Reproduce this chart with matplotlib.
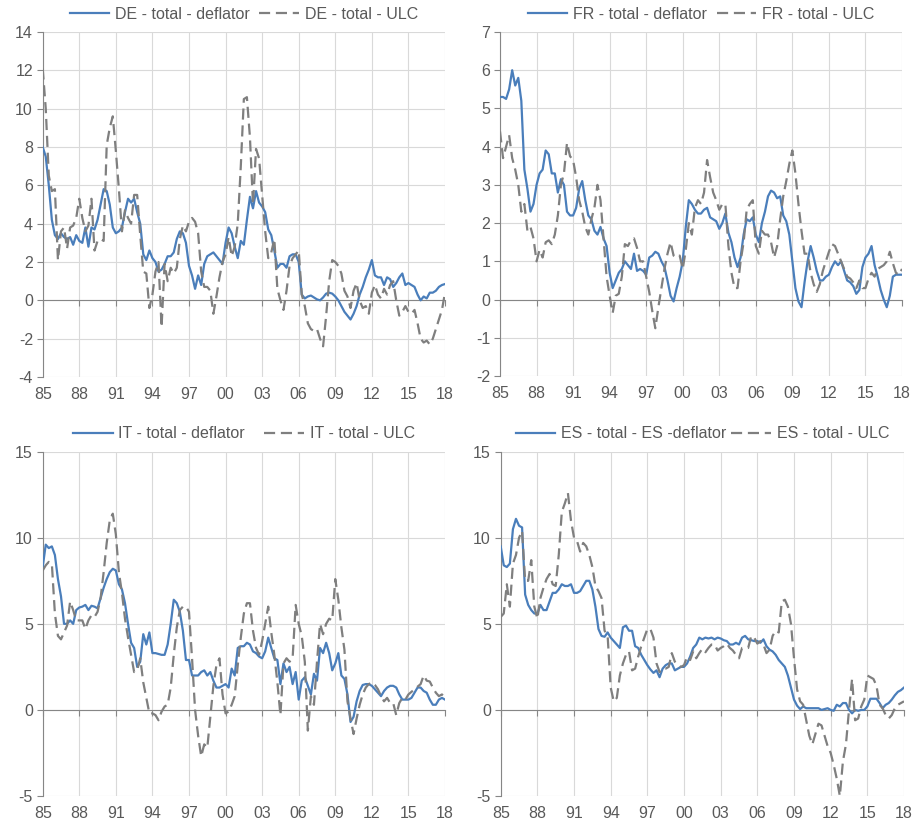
import matplotlib
matplotlib.use("Agg")
import matplotlib.pyplot as plt

plt.rcParams["font.family"] = ["Liberation Sans", "DejaVu Sans"]

# Quarterly data, 1985Q1 .. 2018Q1 (133 quarters)
year_labels = ["85", "88", "91", "94", "97", "00", "03", "06", "09", "12", "15", "18"]

de_deflator = [
    8.0, 7.5, 6.0, 4.2, 3.4, 3.2, 3.5, 3.3, 3.2, 3.3, 2.9, 3.4,
    3.1, 3.0, 3.8, 2.8, 3.8, 3.7, 4.2, 5.0, 5.8, 5.7, 5.0, 3.8,
    3.5, 3.6, 3.8, 4.6, 5.3, 5.1, 5.3, 4.6, 4.0, 2.4, 2.1, 2.6,
    2.2, 2.0, 1.5, 1.6, 1.9, 2.3, 2.3, 2.5, 3.2, 3.6, 3.5, 3.0,
    1.8, 1.3, 0.6, 1.3, 0.8, 1.9, 2.3, 2.4, 2.5, 2.3, 2.1, 1.9,
    3.0, 3.8, 3.5, 2.8, 2.2, 3.1, 2.9, 4.2, 5.4, 4.8, 5.7, 5.1,
    4.9, 4.6, 3.7, 3.4, 2.6, 1.7, 1.9, 1.9, 1.7, 2.3, 2.4, 2.4,
    2.0, 0.3, 0.1, 0.2, 0.25, 0.15, 0.05, 0.0, 0.15, 0.35, 0.4, 0.35,
    0.2, 0.0, -0.3, -0.6, -0.8, -1.0, -0.7, -0.3, 0.3, 0.7, 1.2, 1.6,
    2.1, 1.3, 1.2, 1.2, 0.8, 1.2, 1.1, 0.7, 0.9, 1.2, 1.4, 0.8,
    0.9, 0.8, 0.7, 0.3, 0.0, 0.2, 0.1, 0.4, 0.4, 0.5, 0.7, 0.8,
    0.85,
]
de_ulc = [
    12.1, 10.0, 6.5, 5.7, 5.8, 2.1, 3.6, 3.8, 2.7, 3.8, 3.9, 4.3,
    5.3, 4.3, 3.6, 3.9, 5.3, 2.6, 3.1, 3.2, 3.1, 8.1, 9.0, 9.6,
    7.8, 5.8, 3.6, 4.7, 4.3, 4.0, 5.5, 5.5, 3.4, 1.5, 1.4, -0.4,
    0.3, 1.5, 2.0, -1.4, 1.9, 1.0, 1.7, 1.4, 1.7, 3.2, 3.9, 3.6,
    4.1, 4.3, 4.1, 3.5, 1.5, 0.7, 0.7, 0.5, -0.7, 0.2, 1.2, 2.0,
    2.4, 3.3, 2.3, 2.8, 4.0, 7.0, 10.5, 10.6, 8.5, 5.0, 7.9, 7.4,
    5.5, 3.6, 2.2, 2.5, 3.2, 0.6, 0.0, -0.5, 0.5, 1.8, 2.2, 2.4,
    2.6, 0.3, -0.3, -1.2, -1.5, -1.6, -1.5, -2.0, -2.4, -0.8, 1.0, 2.1,
    2.0, 1.8, 1.4, 0.5, 0.2, -0.4, 0.5, 0.9, 0.0, -0.4, -0.3, -0.7,
    0.4, 0.8, 0.3, 0.1, 0.6, 0.3, 0.8, 1.0, 0.0, -0.8, -0.6, -0.3,
    -0.6, -0.7, -0.5, -1.2, -2.0, -2.2, -2.1, -2.3, -2.0, -1.5, -1.0, -0.5,
    0.4,
]

fr_deflator = [
    5.3, 5.3, 5.25, 5.5, 6.0, 5.6, 5.8, 5.2, 3.4, 2.9, 2.3, 2.5,
    3.0, 3.3, 3.4, 3.9, 3.8, 3.3, 3.3, 2.8, 3.15, 3.0, 2.3, 2.2,
    2.2, 2.4, 2.9, 3.1, 2.6, 2.2, 2.1, 1.8, 1.7, 1.9, 1.6, 1.4,
    0.7, 0.3, 0.5, 0.7, 0.8, 1.0, 0.9, 0.8, 1.2, 0.75, 0.8, 0.75,
    0.65, 1.1, 1.15, 1.25, 1.2, 1.0, 0.85, 0.5, 0.1, -0.05, 0.3, 0.6,
    1.0, 1.9, 2.6, 2.5, 2.35, 2.25, 2.25, 2.35, 2.4, 2.15, 2.1, 2.05,
    1.85, 2.0, 2.25, 1.75, 1.5, 1.1, 0.85, 1.1, 1.7, 2.1, 2.05, 2.15,
    1.7, 1.5, 2.0, 2.3, 2.7, 2.85, 2.8, 2.65, 2.7, 2.2, 2.05, 1.7,
    1.0, 0.3, -0.05, -0.2, 0.45, 1.0, 1.4, 1.1, 0.75, 0.5, 0.5, 0.6,
    0.65, 0.85, 1.0, 0.9, 1.0, 0.75, 0.5, 0.45, 0.35, 0.15, 0.25, 0.85,
    1.1, 1.2, 1.4, 0.9, 0.6, 0.25, 0.0, -0.2, 0.1, 0.6, 0.65, 0.65,
    0.65,
]
fr_ulc = [
    4.4, 3.7, 4.0, 4.3, 3.7, 3.4, 3.0, 2.3, 2.5, 1.8, 1.9, 1.6,
    1.0, 1.3, 1.1, 1.5, 1.55, 1.45, 1.7, 2.2, 3.0, 3.3, 4.1, 3.75,
    3.65, 3.2, 2.6, 2.3, 1.9, 1.7, 2.1, 2.4, 3.0, 2.6, 1.6, 0.6,
    0.1, -0.35, 0.1, 0.15, 0.6, 1.45, 1.4, 1.55, 1.6, 1.35, 1.0, 1.0,
    0.6, 0.2, -0.3, -0.75, -0.2, 0.3, 0.8, 1.2, 1.5, 1.15, 1.1, 1.15,
    0.8, 1.3, 2.0, 1.7, 2.4, 2.6, 2.5, 2.8, 3.65, 3.2, 2.8, 2.6,
    2.35, 2.5, 2.5, 1.4, 0.7, 0.3, 0.3, 1.0, 1.5, 2.35, 2.5, 2.6,
    1.4, 1.2, 1.8, 1.7, 1.7, 1.5, 1.1, 1.4, 2.1, 2.7, 3.1, 3.55,
    3.9, 3.3, 2.5, 1.8, 1.2, 1.2, 0.7, 0.4, 0.2, 0.4, 0.75, 1.0,
    1.25, 1.45, 1.4, 1.2, 1.0, 0.8, 0.6, 0.55, 0.45, 0.3, 0.5, 0.3,
    0.3, 0.55, 0.7, 0.6, 0.8, 0.85, 0.9, 1.0, 1.25, 0.95, 0.7, 0.65,
    0.8,
]

it_deflator = [
    8.3, 9.6, 9.4, 9.5, 9.0, 7.6, 6.6, 5.0, 5.0, 5.2, 5.0, 5.8,
    5.95, 6.0, 6.1, 5.8, 6.05, 6.0, 5.9, 6.5, 7.1, 7.6, 8.0, 8.2,
    8.1, 7.3, 7.0, 6.2, 5.0, 3.9, 3.6, 2.5, 2.8, 4.4, 3.8, 4.5,
    3.3, 3.3, 3.25, 3.2, 3.2, 3.8, 5.0, 6.4, 6.2, 5.7, 4.6, 2.9,
    2.9, 2.0, 2.0, 2.0, 2.2, 2.3, 2.0, 2.2, 1.7, 1.3, 1.3, 1.4,
    1.5, 1.3, 2.4, 2.0, 3.6, 3.7, 3.7, 3.9, 3.8, 3.4, 3.3, 3.1,
    3.0, 3.4, 4.2, 3.6, 3.0, 2.9, 1.5, 2.7, 2.2, 2.5, 1.5, 2.2,
    0.6, 1.7, 1.9, 1.4, 0.9, 2.1, 1.7, 3.6, 3.3, 3.9, 3.3, 2.3,
    2.7, 3.3, 2.0, 1.8, 0.9, -0.7, -0.4, 0.5, 1.1, 1.45, 1.5, 1.5,
    1.4, 1.2, 1.0, 0.8, 1.1, 1.3, 1.4, 1.4, 1.3, 0.9, 0.6, 0.6,
    0.6, 0.7, 1.0, 1.3, 1.3, 1.1, 1.0, 0.6, 0.3, 0.3, 0.6, 0.7,
    0.6,
]
it_ulc = [
    8.1, 8.4, 8.6, 8.5, 5.6, 4.3, 4.1, 4.5, 4.9, 6.3, 5.8, 5.2,
    5.2, 5.2, 4.7, 5.2, 5.5, 5.4, 5.7, 6.5, 8.0, 9.7, 11.0, 11.4,
    10.2, 8.0, 6.8, 5.3, 4.2, 3.2, 2.2, 2.3, 3.0, 1.6, 0.7, -0.2,
    -0.2, -0.3, -0.6, -0.1, 0.2, 0.3, 1.3, 3.2, 4.8, 5.8, 6.0, 6.0,
    5.7, 3.0, 0.0, -1.5, -2.7, -2.0, -2.2, -0.4, 1.4, 2.6, 3.0, 0.9,
    -0.2, -0.1, 0.3, 0.8, 2.6, 4.2, 5.6, 6.2, 6.2, 4.6, 3.6, 3.2,
    4.0, 5.0, 6.0, 4.5, 3.2, 1.6, -0.3, 2.7, 3.0, 2.8, 3.0, 6.1,
    5.0, 4.3, 2.8, -1.2, 0.8, 0.3, 2.8, 5.0, 4.4, 5.0, 5.3, 5.2,
    7.6, 6.4, 4.8, 3.5, 0.5, -0.5, -1.4, -0.5, 0.3, 0.9, 1.3, 1.5,
    1.6, 1.45, 1.2, 0.8, 0.5, 0.7, 0.4, 0.4, -0.3, 0.4, 0.7, 0.6,
    0.9, 1.05, 1.2, 1.35, 1.5, 2.0, 1.7, 1.65, 1.3, 1.0, 0.8, 0.9,
    0.7,
]

es_deflator = [
    9.5, 8.4, 8.3, 8.5, 10.5, 11.1, 10.7, 10.6, 6.7, 6.1, 5.8, 5.6,
    5.6, 6.1, 5.8, 5.8, 6.3, 6.8, 6.8, 7.0, 7.3, 7.2, 7.2, 7.3,
    6.8, 6.8, 6.9, 7.2, 7.5, 7.5, 7.0, 6.0, 4.7, 4.3, 4.25, 4.5,
    4.2, 4.0, 3.8, 3.6, 4.8, 4.9, 4.6, 4.6, 3.7, 3.6, 3.2, 2.9,
    2.6, 2.35, 2.15, 2.3, 1.9, 2.4, 2.6, 2.7, 2.7, 2.3, 2.4, 2.5,
    2.5, 2.7, 3.1, 3.6, 3.8, 4.2, 4.1, 4.2, 4.15, 4.2, 4.1, 4.2,
    4.15, 4.05, 4.0, 3.8, 3.8, 3.9, 3.8, 4.2, 4.3, 4.1, 4.05, 4.0,
    4.0, 3.9, 4.1, 3.7, 3.5, 3.4, 3.2, 2.9, 2.7, 2.5, 2.0, 1.3,
    0.6, 0.25, 0.05, 0.2, 0.1, 0.1, 0.1, 0.1, 0.1, 0.0, 0.05, 0.1,
    0.0, -0.05, 0.3, 0.2, 0.4, 0.4, 0.0, -0.2, 0.0, -0.05, 0.0, 0.0,
    0.2, 0.65, 0.65, 0.65, 0.4, 0.1, 0.3, 0.4, 0.6, 0.85, 1.05, 1.15,
    1.3,
]
es_ulc = [
    5.4, 5.6, 7.3, 6.0, 8.5, 9.0, 10.0, 10.4, 7.5, 7.5, 8.7, 6.0,
    5.3, 6.5, 7.1, 7.6, 7.9, 7.3, 7.2, 9.0, 11.5, 12.0, 12.6, 11.0,
    10.0, 9.8, 9.2, 9.7, 9.5, 9.0, 8.3, 7.2, 6.9, 6.5, 4.6, 4.3,
    1.3, 0.5, 0.7, 2.0, 2.7, 3.2, 3.4, 2.3, 2.4, 3.1, 3.7, 4.2,
    4.7, 4.7, 4.2, 2.7, 2.2, 2.4, 2.4, 2.5, 3.3, 2.8, 2.6, 2.5,
    2.6, 3.1, 2.9, 3.4, 3.0, 3.3, 3.55, 3.35, 3.6, 3.8, 3.8, 3.45,
    3.6, 3.7, 3.85, 3.6, 3.45, 3.2, 3.0, 3.6, 3.6, 3.6, 4.3, 4.2,
    3.85, 4.0, 3.8, 3.3, 3.5, 4.3, 4.6, 4.5, 6.3, 6.4, 6.0, 5.0,
    3.0, 1.2, 0.5, 0.3, -0.6, -1.5, -2.0, -1.4, -0.8, -0.9, -1.5, -2.1,
    -2.5, -3.2, -4.0, -5.0, -3.0, -2.0, 0.0, 1.8, -0.6, -0.5, 0.2, 0.6,
    2.0, 1.9, 1.8, 1.4, 0.3, 0.1, -0.3, -0.5, -0.3, 0.1, 0.3, 0.4,
    0.5,
]

BLUE = "#4a7ebb"
GREY = "#7f7f7f"
AXIS = "#868686"
GRID = "#d9d9d9"
TEXT = "#595959"


def draw_panel(fig, rect, deflator, ulc, labels, ylim, ystep, colspacing=0.6):
    ax = fig.add_axes(rect)
    quarters = list(range(len(deflator)))

    ax.plot(quarters, deflator, color=BLUE, lw=1.6, label=labels[0], zorder=3)
    ax.plot(quarters, ulc, color=GREY, lw=1.6, ls=(0, (5, 2.6)),
            label=labels[1], zorder=4)

    ax.set_xlim(0, len(deflator) - 1)
    ax.set_ylim(*ylim)
    xticks = list(range(0, len(deflator), 12))
    ax.set_xticks(xticks)
    ax.set_yticks([ylim[0] + i * ystep for i in range(int((ylim[1] - ylim[0]) / ystep) + 1)])
    ax.grid(True, color=GRID, lw=0.8, zorder=0)
    ax.set_axisbelow(True)

    # horizontal axis crosses at zero, labels sit at the bottom
    for side in ["top", "right"]:
        ax.spines[side].set_visible(False)
    ax.spines["bottom"].set_position(("data", 0))
    ax.spines["bottom"].set_color(AXIS)
    ax.spines["left"].set_color(AXIS)
    ax.tick_params(axis="x", direction="out", length=4, color=AXIS,
                   labelbottom=False)
    ax.tick_params(axis="y", direction="out", length=4, color=AXIS,
                   labelcolor=TEXT, labelsize=11.5, pad=3)
    ax.set_yticklabels([f"{v:g}" for v in ax.get_yticks()])

    sec = ax.secondary_xaxis("bottom")
    sec.set_xticks(xticks, labels=year_labels)
    sec.tick_params(length=0, pad=7, labelcolor=TEXT, labelsize=11.5)
    sec.spines["bottom"].set_visible(False)

    ax.legend(loc="lower center", bbox_to_anchor=(0.5, 1.0), ncol=2,
              frameon=False, fontsize=11.5, labelcolor=TEXT, handlelength=2.5,
              handletextpad=0.35, columnspacing=colspacing, borderaxespad=0.25)
    return ax


fig = plt.figure(figsize=(9.14, 8.27), dpi=100)
W, H = 914, 827


def rect(x0, x1, y0, y1):
    return [x0 / W, 1 - y1 / H, (x1 - x0) / W, (y1 - y0) / H]


draw_panel(fig, rect(42.7, 445, 32, 377), de_deflator, de_ulc,
           ["DE - total - deflator", "DE - total - ULC"], (-4, 14), 2)
draw_panel(fig, rect(500, 902, 32, 376), fr_deflator, fr_ulc,
           ["FR - total - deflator", "FR - total - ULC"], (-2, 7), 1)
draw_panel(fig, rect(42.7, 445, 451.7, 796), it_deflator, it_ulc,
           ["IT - total - deflator", "IT - total - ULC"], (-5, 15), 5,
           colspacing=1.2)
draw_panel(fig, rect(500.7, 904, 451.7, 796), es_deflator, es_ulc,
           ["ES - total - ES -deflator", "ES - total - ULC"], (-5, 15), 5,
           colspacing=0.3)

fig.savefig("out.png", dpi=100)
